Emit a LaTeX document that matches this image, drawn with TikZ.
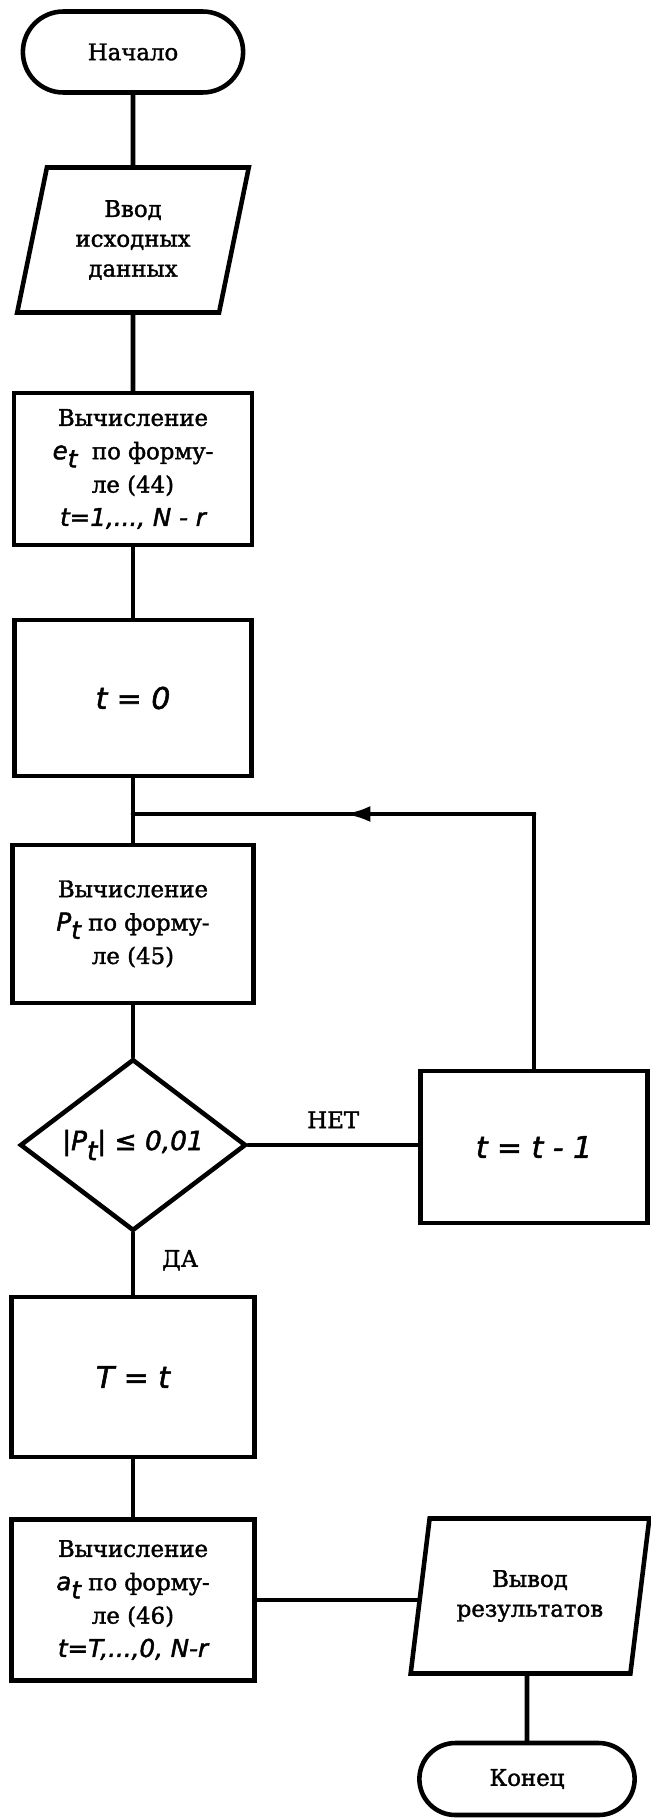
\documentclass[tikz,border=0pt]{standalone}
\usepackage{fontspec}
\setmainfont{DejaVu Serif}[FakeBold=1.6]
\newfontfamily\stencilfont{DejaVu Sans}[FakeBold=1.8]
\usetikzlibrary{shapes.geometric,shapes.misc,arrows.meta}
\newcommand{\hw}[1]{{\stencilfont\itshape\fontsize{14}{19}\selectfont #1}}
\newcommand{\hwsub}[2]{\hw{#1}\raisebox{-0.7ex}{\hw{#2}}}

\begin{document}
\begin{tikzpicture}[x=0.02cm,y=-0.02cm,line cap=round,
  flow/.style={line width=2.6pt},
  proc/.style={draw,line width=2.6pt,rectangle,align=center,inner sep=2pt,
    font=\fontsize{13}{19}\selectfont},
  term/.style={draw,line width=2.6pt,rounded rectangle,
    font=\fontsize{13}{16}\selectfont},
  io/.style={draw,line width=2.6pt,trapezium,trapezium stretches=true,
    trapezium left angle=76,trapezium right angle=104,inner sep=0pt,align=center,
    font=\fontsize{13}{17}\selectfont},
  cond/.style={draw,line width=2.6pt,diamond,inner sep=0pt},
  big/.style={font=\stencilfont\itshape\fontsize{17}{20}\selectfont},
  note/.style={font=\fontsize{13}{16}\selectfont}]
  \useasboundingbox (0,0) rectangle (651,1818);

  \node[term,minimum width=4.64cm,minimum height=1.62cm] (start) at (133,52) {Начало};
  \node[io,minimum width=4.66cm,minimum height=2.9cm] (input) at (133,240) {Ввод\\исходных\\данных};
  \node[proc,minimum width=4.76cm,minimum height=3.04cm] (calcE) at (133,469)
    {Вычисление\\\hwsub{e}{t}\ \ по форму-\\ле (44)\\\hw{t=1,..., N - r}};
  \node[proc,big,minimum width=4.74cm,minimum height=3.12cm] (zero) at (133,698) {t = 0};
  \node[proc,minimum width=4.82cm,minimum height=3.16cm] (calcP) at (133,924)
    {Вычисление\\\hwsub{P}{t} по форму-\\ле (45)};
  \node[cond,minimum width=4.52cm,minimum height=3cm] (check) at (133,1145)
    {\hw{\fontsize{15}{18}\selectfont|P\raisebox{-0.7ex}{t}| ≤ 0,01}};
  \node[proc,big,minimum width=4.54cm,minimum height=3.04cm] (tstep) at (534,1147) {t = t - 1};
  \node[proc,big,minimum width=4.86cm,minimum height=3.2cm] (setT) at (133,1377) {T = t};
  \node[proc,minimum width=4.86cm,minimum height=3.22cm] (calcA) at (133,1600)
    {Вычисление\\\hwsub{a}{t} по форму-\\ле (46)\\\hw{t=T,...,0, N-r}};
  \node[io,trapezium left angle=75,trapezium right angle=105,
    minimum width=4.82cm,minimum height=3.1cm] (output) at (530,1596) {Вывод\\результатов};
  \node[term,minimum width=4.54cm,minimum height=1.44cm] (finish) at (527,1779) {Конец};

  \coordinate (join) at (133,814);
  \coordinate (loop tip) at (344,814);

  \draw[flow] (start) -- (input);
  \draw[flow] (input) -- (calcE);
  \draw[flow] (calcE) -- (zero);
  \draw[flow] (zero) -- (calcP);
  \draw[flow] (calcP) -- (check);
  \draw[flow] (check.east) -- node[note,above=5pt] (no) {НЕТ} (check.east -| tstep.west);
  \draw[flow] (check) -- node[note,right=12pt,pos=0.44] (yes) {ДА} (setT);
  \draw[flow] (tstep.north) |- (join);
  \draw[flow,-{Latex[length=15pt,width=9pt]}] (tstep.north |- join) -- (loop tip);
  \draw[flow] (setT) -- (calcA);
  \draw[flow] (calcA.east) -- (calcA.east -| output.west);
  \draw[flow] (output.south -| finish) -- (finish);
\end{tikzpicture}
\end{document}
